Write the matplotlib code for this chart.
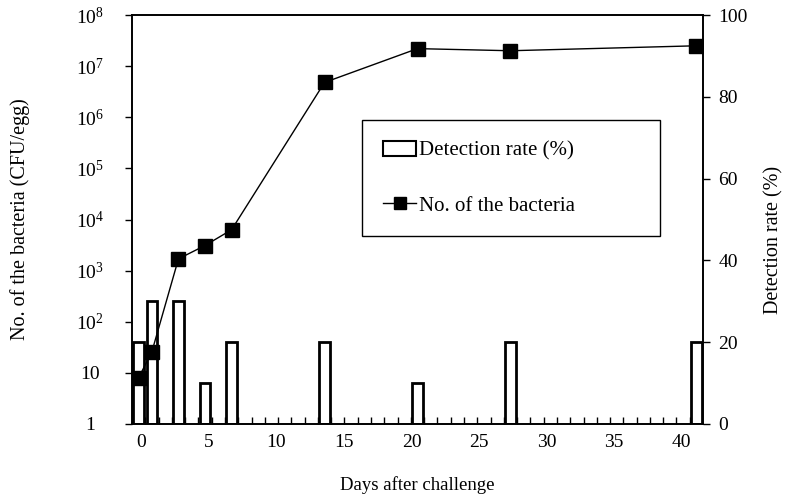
import numpy as np
import matplotlib.pyplot as plt
from matplotlib.patches import Patch
from matplotlib.lines import Line2D

plt.rcParams['font.family'] = ['Liberation Serif', 'DejaVu Serif']
plt.rcParams['mathtext.fontset'] = 'custom'
plt.rcParams['mathtext.rm'] = 'Liberation Serif'
plt.rcParams['mathtext.it'] = 'Liberation Serif'

# data
days = [0, 1, 3, 5, 7, 14, 21, 28, 42]
detection_rate = [20, 30, 30, 10, 20, 20, 10, 20, 20]
bacteria = [8, 26, 1700, 3100, 6300, 4.8e6, 2.2e7, 2.0e7, 2.5e7]
xtick_labels = [0, 5, 10, 15, 20, 25, 30, 35, 40]
log_ticks = [1, 10, 1e2, 1e3, 1e4, 1e5, 1e6, 1e7, 1e8]
log_labels = ['1', '10'] + ['$10^{%d}$' % i for i in range(2, 9)]

fs = 14
fig = plt.figure(figsize=(7.87, 4.97), dpi=100)
ax = fig.add_axes([0.1677, 0.1469, 0.7256, 0.8229])
ax2 = ax.twinx()
ax.set_zorder(2)
ax2.set_zorder(1)
ax.patch.set_visible(False)

# bars (right axis)
ax2.bar(days, detection_rate, width=0.8, facecolor='white', edgecolor='black', linewidth=2)
ax2.set_ylim(0, 100)
ax2.set_yticks([0, 20, 40, 60, 80, 100])
ax2.tick_params(axis='y', direction='out', length=5, labelsize=fs, width=1, pad=6)
ax2.set_ylabel('Detection rate (%)', fontsize=14.5)
ax2.yaxis.set_label_coords(1.108, 0.45)

# line (left axis, log)
ax.plot(days, bacteria, color='black', linewidth=1, marker='s', markersize=10)
ax.set_yscale('log')
ax.set_ylim(1, 1e8)
ax.set_yticks(log_ticks)
ax.set_yticklabels(log_labels, ha='center')
ax.yaxis.set_minor_locator(plt.NullLocator())
ax.tick_params(axis='y', direction='out', length=5, labelsize=fs, width=1, pad=25)
ax.set_ylabel('No. of the bacteria (CFU/egg)', fontsize=14.5)
ax.yaxis.set_label_coords(-0.178, 0.5)

# x axis: category boundaries as ticks, labels placed separately
ax.set_xlim(-0.5, 42.5)
ax.set_xticks([0.215 + 1.0166 * d for d in xtick_labels])
ax.set_xticklabels([str(d) for d in xtick_labels])
ax.set_xticks(np.arange(0.5, 42.5, 1.0), minor=True)
ax.tick_params(axis='x', which='major', length=0, labelsize=fs, pad=7)
ax.tick_params(axis='x', which='minor', direction='in', length=5, width=1)
ax.set_xlabel('Days after challenge', fontsize=13.5, labelpad=18)

for a in (ax, ax2):
    for s in a.spines.values():
        s.set_linewidth(1.2)
        s.set_color('black')

handles = [Patch(facecolor='white', edgecolor='black', linewidth=1.5),
           Line2D([], [], color='black', linewidth=1, marker='s', markersize=9)]
leg = ax.legend(handles, ['Detection rate (%)', 'No. of the bacteria'],
                loc='upper left', bbox_to_anchor=(0.403, 0.467, 0.522, 0.276),
                mode='expand', fontsize=15, labelspacing=1.7, handlelength=1.6,
                borderpad=1.0, handletextpad=0.15, fancybox=False, framealpha=1,
                borderaxespad=0)
leg.get_frame().set_edgecolor('black')
leg.get_frame().set_linewidth(1)

fig.savefig('out.png', dpi=100)
